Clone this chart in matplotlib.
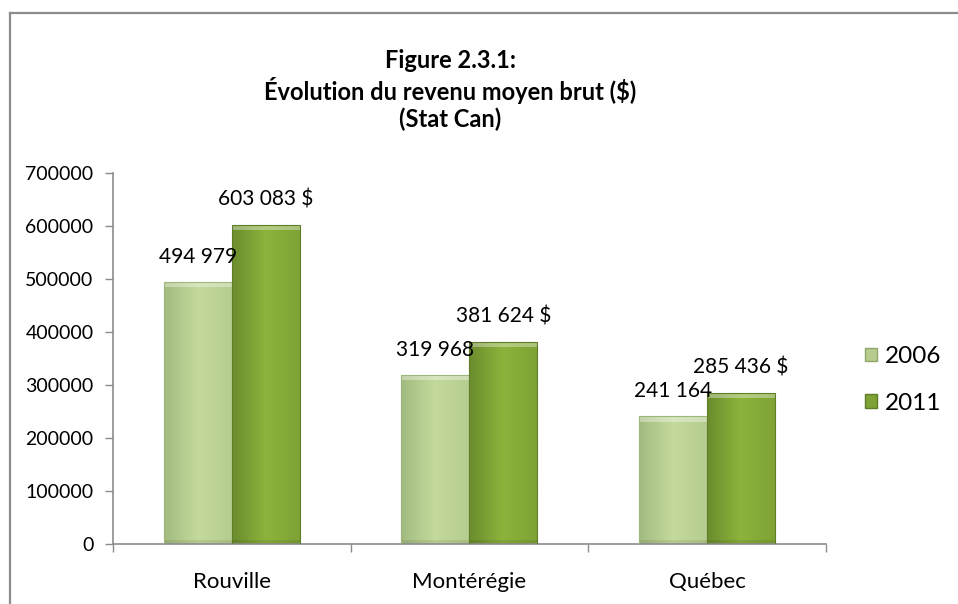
import numpy as np
import matplotlib
matplotlib.use("Agg")
import matplotlib.pyplot as plt
from matplotlib.lines import Line2D
from matplotlib.patches import Rectangle
from matplotlib.colors import LinearSegmentedColormap

plt.rcParams['font.family'] = ['Lato', 'DejaVu Sans']

# data
regions = ["Rouville", "Montérégie", "Québec"]
rev_2006 = [494979, 319968, 241164]
rev_2011 = [603083, 381624, 285436]
labels_2006 = ["494 979", "319 968", "241 164"]
labels_2011 = ["603 083 $", "381 624 $", "285 436 $"]
series = ["2006", "2011"]

fig = plt.figure(figsize=(9.58, 6.04), dpi=100)
ax = fig.add_axes([0.118, 0.0993, 0.744, 0.614])

# chart frame (only top and left edges visible)
fig.add_artist(Line2D([0.0105, 0.0105], [0, 0.979], color="#8c8c8c", lw=1.6))
fig.add_artist(Line2D([0.0105, 1.0], [0.979, 0.979], color="#8c8c8c", lw=1.6))

x = np.arange(len(regions))
w = 0.286

cmap_06 = LinearSegmentedColormap.from_list("g06", ["#a3bb80", "#c4da9c", "#b6cd90"])
cmap_11 = LinearSegmentedColormap.from_list("g11", ["#6b8c2d", "#8cb43c", "#7fa235"])


def gradient_bar(xc, h, cmap, edge):
    x0 = xc - w / 2
    rect = Rectangle((x0, 0), w, h, facecolor="none", edgecolor=edge, lw=0.8, zorder=3)
    ax.add_patch(rect)
    grad = np.linspace(0, 1, 64).reshape(1, -1)
    im = ax.imshow(grad, cmap=cmap, aspect="auto", extent=(x0, x0 + w, 0, h),
                   zorder=2, interpolation="bilinear")
    im.set_clip_path(rect)
    # bevel highlight on top, shadow at the bottom
    ax.add_patch(Rectangle((x0, h - 10000), w, 10000, facecolor="white", alpha=0.35,
                           edgecolor="none", zorder=2.5))
    ax.add_patch(Rectangle((x0, 0), w, 8000, facecolor="black", alpha=0.08,
                           edgecolor="none", zorder=2.5))


for i in range(len(regions)):
    gradient_bar(x[i] - w / 2, rev_2006[i], cmap_06, "#9db67a")
    gradient_bar(x[i] + w / 2, rev_2011[i], cmap_11, "#5f7d27")
    ax.annotate(labels_2006[i], (x[i] - w / 2, rev_2006[i]), xytext=(0, 18),
                textcoords="offset points", ha="center", va="center",
                fontsize=15, color="black", zorder=5)
    ax.annotate(labels_2011[i], (x[i] + w / 2, rev_2011[i]), xytext=(0, 18),
                textcoords="offset points", ha="center", va="center",
                fontsize=15, color="black", zorder=5)

ax.set_xlim(-0.5, 2.5)
ax.set_ylim(0, 700000)
ax.set_yticks(np.arange(0, 700001, 100000))
ax.set_yticklabels([str(v) for v in range(0, 700001, 100000)], fontsize=14)
ax.set_xticks(x)
ax.set_xticklabels(regions, fontsize=16)
ax.set_xticks([-0.5, 0.5, 1.5, 2.5], minor=True)
ax.tick_params(axis="x", which="major", length=0, pad=20)
ax.tick_params(axis="x", which="minor", length=6, color="#8c8c8c", width=1)
ax.tick_params(axis="y", length=6, color="#8c8c8c", width=1, pad=8)

for s in ["top", "right"]:
    ax.spines[s].set_visible(False)
for s in ["left", "bottom"]:
    ax.spines[s].set_color("#8c8c8c")
    ax.spines[s].set_linewidth(1.2)

# legend
handles = [Rectangle((0, 0), 1, 1, facecolor="#b5cc8e", edgecolor="#8fa86a"),
           Rectangle((0, 0), 1, 1, facecolor="#7fa235", edgecolor="#5f7d27")]
fig.legend(handles, series, loc="center left", bbox_to_anchor=(0.903, 0.371),
           frameon=False, fontsize=17.5, handlelength=0.5, handleheight=0.5,
           handletextpad=0.3, labelspacing=1.05, borderpad=0, borderaxespad=0)

fig.text(0.47, 0.851, "Figure 2.3.1:\nÉvolution du revenu moyen brut ($)\n(Stat Can)",
         ha="center", va="center", fontsize=17, fontweight="bold", linespacing=1.2)

fig.savefig("out.png", dpi=100)
